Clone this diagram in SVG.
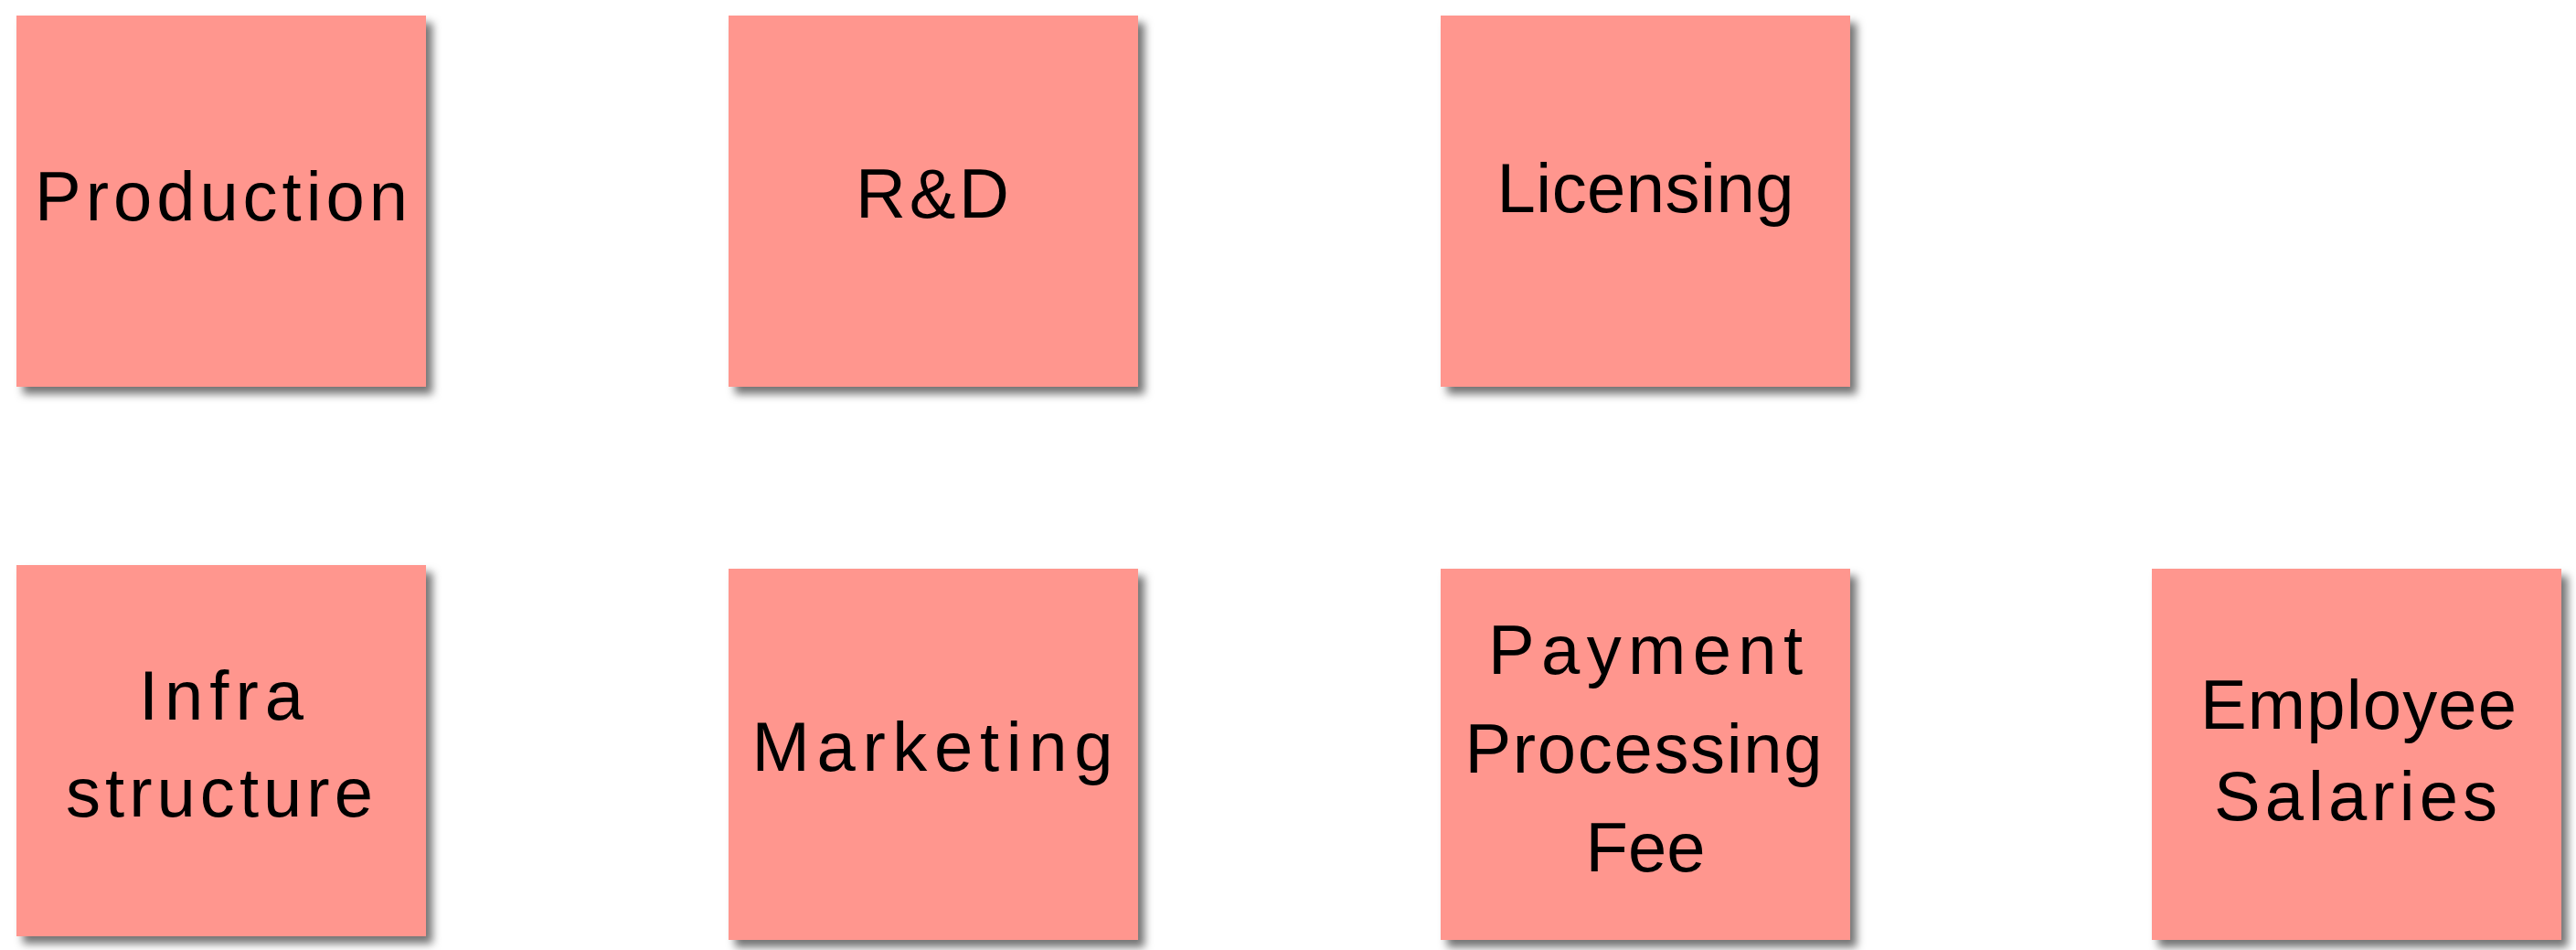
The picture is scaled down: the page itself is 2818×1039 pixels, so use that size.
<svg xmlns="http://www.w3.org/2000/svg" width="2818" height="1039" viewBox="0 0 2818 1039">
<defs>
<filter id="sh" x="-10%" y="-10%" width="125%" height="125%">
<feDropShadow dx="7" dy="8" stdDeviation="5" flood-color="#000" flood-opacity="0.55"/>
</filter>
<style>
.note{fill:#ff968e;filter:url(#sh);}
.t{font-family:"Liberation Sans",Arial,sans-serif;font-size:76px;fill:#000;text-anchor:middle;}
</style>
</defs>
<rect width="2818" height="1039" fill="#fff"/>
<g id="connectors"></g>
<g id="production">
<rect class="note" x="18" y="17" width="448" height="406"/>
<text class="t" x="242" y="241" textLength="408" lengthAdjust="spacing">Production</text>
</g>
<g id="rnd">
<rect class="note" x="797" y="17" width="448" height="406"/>
<text class="t" x="1020" y="238" textLength="168" lengthAdjust="spacing">R&amp;D</text>
</g>
<g id="licensing">
<rect class="note" x="1576" y="17" width="448" height="406"/>
<text class="t" x="1800" y="232" textLength="325" lengthAdjust="spacing">Licensing</text>
</g>
<g id="infrastructure">
<rect class="note" x="18" y="618" width="448" height="406"/>
<text class="t" x="242" y="787" textLength="180" lengthAdjust="spacing">Infra</text>
<text class="t" x="240" y="893" textLength="336" lengthAdjust="spacing">structure</text>
</g>
<g id="marketing">
<rect class="note" x="797" y="622" width="448" height="406"/>
<text class="t" x="1020" y="843" textLength="395" lengthAdjust="spacing">Marketing</text>
</g>
<g id="payment">
<rect class="note" x="1576" y="622" width="448" height="406"/>
<text class="t" x="1800" y="737" textLength="344" lengthAdjust="spacing">Payment</text>
<text class="t" x="1798" y="845" textLength="391" lengthAdjust="spacing">Processing</text>
<text class="t" x="1800" y="953">Fee</text>
</g>
<g id="salaries">
<rect class="note" x="2354" y="622" width="448" height="406"/>
<text class="t" x="2580" y="797" textLength="346" lengthAdjust="spacing">Employee</text>
<text class="t" x="2577" y="897" textLength="310" lengthAdjust="spacing">Salaries</text>
</g>
</svg>
